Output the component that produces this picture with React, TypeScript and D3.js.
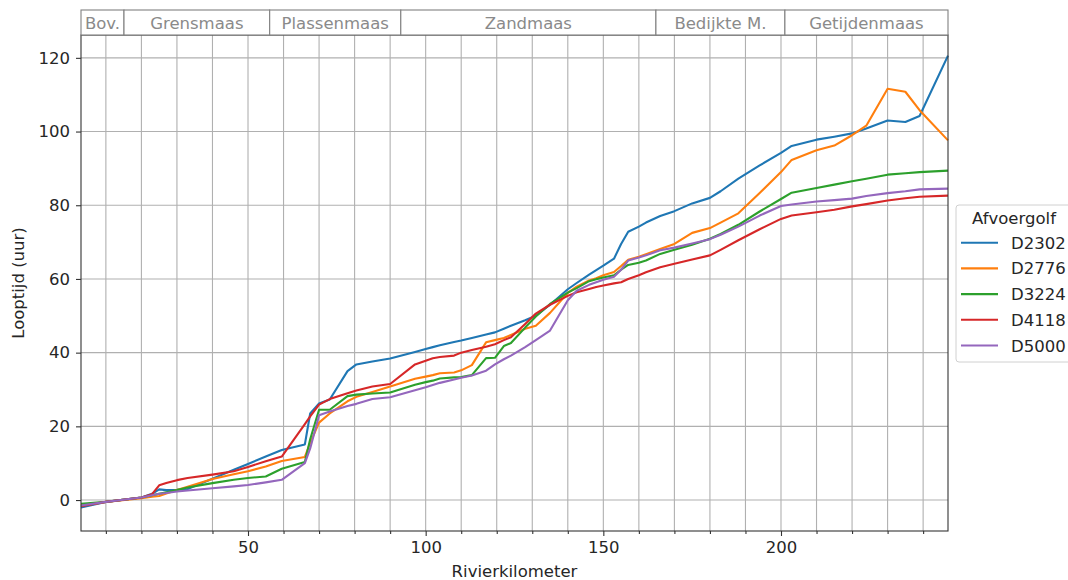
import React, { useEffect, useRef } from 'react';
import * as d3 from 'd3';

// rivierkilometer stations (shared by all series)
const km = [
  3, 10, 20, 23, 25, 27, 30, 33, 40, 46, 50, 55, 59.5, 66, 67.5, 70, 73, 78, 80.5, 85,
  90, 97, 100, 102, 104, 108, 110, 113, 117, 119.5, 122, 124, 128, 131, 135, 140, 142.5, 146, 148, 150,
  153, 155, 157, 160, 162, 166, 170, 175, 180, 183, 188, 194, 200, 203, 210, 215, 220, 224, 230, 235,
  239, 247,
];

const d2302 = [
  -2.0, -0.5, 0.7, 1.7, 2.9, 2.7, 2.8, 3.0, 5.8, 8.2, 9.8, 11.8, 13.6, 15.1, 23.5, 26.2, 27.3, 35.0, 36.8, 37.6,
  38.4, 40.2, 41.0, 41.5, 42.0, 42.9, 43.3, 44.0, 44.9, 45.5, 46.5, 47.3, 48.8, 50.0, 53.0, 57.2, 58.9, 61.2, 62.4, 63.6,
  65.5, 69.5, 72.8, 74.2, 75.3, 77.1, 78.4, 80.5, 82.0, 83.8, 87.2, 90.8, 94.2, 96.1, 97.8, 98.6, 99.5, 100.8, 103.0, 102.6,
  104.2, 120.6,
];
const d2776 = [
  -1.5, -0.5, 0.5, 0.9, 1.1, 1.8, 2.7, 3.6, 5.7, 7.0, 7.8, 9.1, 10.6, 11.7, 15.5, 21.0, 23.5, 26.8, 28.0, 29.3,
  30.8, 32.9, 33.5, 33.9, 34.4, 34.6, 35.2, 36.6, 42.8, 43.4, 44.0, 44.8, 46.5, 47.3, 50.8, 56.2, 57.9, 59.6, 60.2, 61.0,
  61.9, 63.5, 65.2, 66.0, 66.7, 68.1, 69.5, 72.5, 73.8, 75.3, 77.8, 83.3, 89.0, 92.3, 94.9, 96.2, 99.0, 101.6, 111.6, 110.8,
  105.8, 97.6,
];
const d3224 = [
  -1.0, -0.5, 0.7, 1.3, 1.7, 2.1, 2.7, 3.4, 4.6, 5.5, 6.0, 6.4, 8.5, 10.3, 16.5, 24.5, 24.5, 28.2, 28.6, 28.9,
  29.2, 31.3, 32.0, 32.4, 33.0, 33.3, 33.4, 33.9, 38.5, 38.6, 41.8, 42.6, 46.8, 49.8, 53.2, 56.3, 57.5, 59.4, 59.9, 60.4,
  61.0, 62.5, 63.8, 64.4, 65.0, 66.8, 67.9, 69.3, 70.9, 72.2, 74.7, 78.3, 81.7, 83.4, 84.7, 85.6, 86.5, 87.2, 88.3, 88.7,
  89.0, 89.4,
];
const d4118 = [
  -1.7, -0.5, 0.7, 1.6, 4.0, 4.6, 5.4, 6.0, 6.9, 7.8, 9.0, 10.5, 11.8, 20.6, 22.7, 25.9, 27.4, 29.0, 29.7, 30.8,
  31.5, 36.8, 37.8, 38.5, 38.8, 39.2, 40.0, 40.7, 41.6, 42.3, 43.4, 44.2, 47.8, 50.6, 53.0, 55.4, 56.4, 57.3, 57.8, 58.2,
  58.8, 59.1, 60.0, 61.0, 61.8, 63.2, 64.1, 65.3, 66.4, 67.9, 70.5, 73.5, 76.3, 77.2, 78.1, 78.8, 79.7, 80.3, 81.3, 81.9,
  82.3, 82.6,
];
const d5000 = [
  -1.5, -0.5, 0.7, 1.3, 1.7, 1.9, 2.3, 2.6, 3.2, 3.7, 4.1, 4.8, 5.5, 10.0, 14.0, 23.0, 24.0, 25.5, 26.1, 27.4,
  27.9, 29.8, 30.6, 31.2, 31.8, 32.7, 33.2, 33.8, 35.1, 36.8, 38.2, 39.2, 41.5, 43.4, 46.0, 54.2, 56.8, 58.4, 59.1, 59.8,
  60.6, 62.5, 65.0, 65.8, 66.4, 67.8, 68.5, 69.6, 70.8, 72.0, 74.2, 77.2, 79.8, 80.2, 81.0, 81.4, 81.8, 82.5, 83.3, 83.8,
  84.3, 84.5,
];

const seriesNames = ['D2302', 'D2776', 'D3224', 'D4118', 'D5000'];
const seriesValues = [d2302, d2776, d3224, d4118, d5000];
const colors = ['#1f77b4', '#ff7f0e', '#2ca02c', '#d62728', '#9467bd'];

// river sections shown in the band above the plot
const sectionNames = ['Bov.', 'Grensmaas', 'Plassenmaas', 'Zandmaas', 'Bedijkte M.', 'Getijdenmaas'];
const sectionBounds = [3, 15.1, 56.1, 93.0, 164.8, 201.1, 247];

const yTicks = [0, 20, 40, 60, 80, 100, 120];
const xMajorTicks = [50, 100, 150, 200];

const App = () => {
  const svgRef = useRef<SVGSVGElement>(null);

  useEffect(() => {
    const svg = d3.select(svgRef.current);
    const width = 1068;
    const height = 580;
    const margin = { top: 35, right: 120, bottom: 49, left: 81 };
    const font = 'DejaVu Sans, sans-serif';
    const fs = 16.5;

    svg.selectAll('*').remove();

    const x = d3.scaleLinear().domain([3, 247]).range([margin.left, width - margin.right]);
    const y = d3.scaleLinear().domain([-8.4, 126.2]).range([height - margin.bottom, margin.top]);
    const xMinor = d3.range(10, 247, 10);

    // grid
    const grid = svg.append('g').attr('stroke', '#b0b0b0').attr('stroke-width', 1.1);
    grid.selectAll('line.v')
      .data(xMinor)
      .join('line')
        .attr('x1', d => x(d)).attr('x2', d => x(d))
        .attr('y1', y.range()[0]).attr('y2', y.range()[1]);
    grid.selectAll('line.h')
      .data(yTicks)
      .join('line')
        .attr('y1', d => y(d)).attr('y2', d => y(d))
        .attr('x1', x.range()[0]).attr('x2', x.range()[1]);

    // lines
    const line = d3.line<number>()
      .x((_, i) => x(km[i]))
      .y(d => y(d));

    svg.append('g')
      .selectAll('path')
      .data(seriesValues)
      .join('path')
        .attr('d', d => line(d))
        .attr('fill', 'none')
        .attr('stroke', (_, i) => colors[i])
        .attr('stroke-width', 2.1)
        .attr('stroke-linejoin', 'round');

    // spines
    svg.append('rect')
      .attr('x', x.range()[0]).attr('y', y.range()[1])
      .attr('width', x.range()[1] - x.range()[0])
      .attr('height', y.range()[0] - y.range()[1])
      .attr('fill', 'none').attr('stroke', '#333').attr('stroke-width', 1.1);

    // axes
    const xAxis = svg.append('g')
      .attr('transform', `translate(0,${y.range()[0]})`)
      .call(d3.axisBottom(x).tickValues(xMajorTicks).tickSize(5).tickPadding(5).tickFormat(d3.format('d')));
    svg.append('g')
      .attr('transform', `translate(0,${y.range()[0]})`)
      .call(d3.axisBottom(x).tickValues(xMinor.filter(d => d % 50 !== 0)).tickSize(3).tickFormat(() => ''));
    const yAxis = svg.append('g')
      .attr('transform', `translate(${x.range()[0]},0)`)
      .call(d3.axisLeft(y).tickValues(yTicks).tickSize(5).tickPadding(6).tickFormat(d3.format('d')));

    svg.selectAll('.domain').remove();
    svg.selectAll('.tick line').attr('stroke', '#333').attr('stroke-width', 1.1);
    [xAxis, yAxis].forEach(a => a.selectAll('text')
      .attr('font-family', font).attr('font-size', fs).attr('fill', '#262626'));

    svg.append('text')
      .attr('x', (x.range()[0] + x.range()[1]) / 2).attr('y', 577)
      .attr('text-anchor', 'middle')
      .attr('font-family', font).attr('font-size', fs).attr('fill', '#262626')
      .text('Rivierkilometer');
    svg.append('text')
      .attr('transform', `translate(24,${(y.range()[0] + y.range()[1]) / 2}) rotate(-90)`)
      .attr('text-anchor', 'middle')
      .attr('font-family', font).attr('font-size', fs).attr('fill', '#262626')
      .text('Looptijd (uur)');

    // section band
    const band = svg.append('g');
    const bandTop = 10;
    const bandBottom = margin.top;
    band.selectAll('rect')
      .data(sectionNames)
      .join('rect')
        .attr('x', (_, i) => x(sectionBounds[i]))
        .attr('y', bandTop)
        .attr('width', (_, i) => x(sectionBounds[i + 1]) - x(sectionBounds[i]))
        .attr('height', bandBottom - bandTop)
        .attr('fill', 'white')
        .attr('stroke', '#808080')
        .attr('stroke-width', 1.1);
    band.selectAll('text')
      .data(sectionNames)
      .join('text')
        .attr('x', (_, i) => (x(sectionBounds[i]) + x(sectionBounds[i + 1])) / 2)
        .attr('y', (bandTop + bandBottom) / 2 + 6)
        .attr('text-anchor', 'middle')
        .attr('font-family', font).attr('font-size', fs).attr('fill', '#8a8a8a')
        .text(d => d);

    // legend
    const legend = svg.append('g').attr('transform', 'translate(956,205)');
    legend.append('rect')
      .attr('width', 130).attr('height', 157).attr('rx', 3)
      .attr('fill', 'white').attr('stroke', '#d0d0d0').attr('stroke-width', 1);
    legend.append('text')
      .attr('x', 58).attr('y', 19)
      .attr('text-anchor', 'middle')
      .attr('font-family', font).attr('font-size', fs).attr('fill', '#262626')
      .text('Afvoergolf');
    const items = legend.selectAll('g.item')
      .data(seriesNames)
      .join('g')
        .attr('transform', (_, i) => `translate(0,${37.7 + i * 25.7})`);
    items.append('line')
      .attr('x1', 5).attr('x2', 42)
      .attr('stroke', (_, i) => colors[i]).attr('stroke-width', 2.1);
    items.append('text')
      .attr('x', 55).attr('y', 6)
      .attr('font-family', font).attr('font-size', fs).attr('fill', '#262626')
      .text(d => d);
  }, []);

  return (
    <svg ref={svgRef} width="1068" height="580" style={{ position: 'absolute', left: 0, top: 0 }}></svg>
  );
};

export default App;
